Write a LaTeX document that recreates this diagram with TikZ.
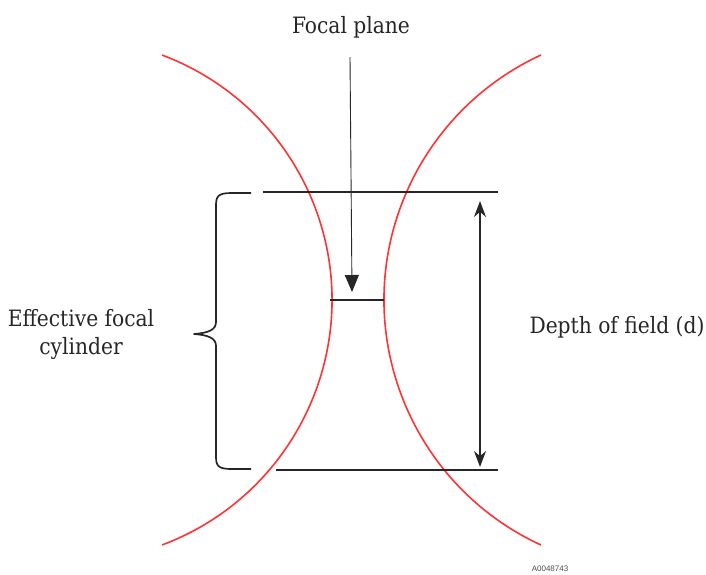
\documentclass[tikz,border=0pt]{standalone}
\usepackage{fontspec}
\setmainfont{DejaVu Serif Condensed}
\setsansfont{Liberation Sans}
\usetikzlibrary{arrows.meta}
\begin{document}
\begin{tikzpicture}[x=1pt,y=-1pt,
  redarc/.style={draw=red!80!white, line width=1.6pt},
  blk/.style={draw=black!85, line width=1.7pt},
  lbl/.style={font=\fontsize{22.5}{27}\selectfont, text=black!85, align=center, inner sep=0pt}]
\useasboundingbox (0,0) rectangle (706,574);
% red arcs
\draw[redarc] (70.5,300) ++(69.5:261.5) arc[start angle=69.5, end angle=-69.5, radius=261.5];
\draw[redarc] (653.7,300) ++(114.7:269.7) arc[start angle=114.7, end angle=245.3, radius=269.7];
% coordinates
\coordinate (tl) at (263,192);
\coordinate (tr) at (498,192);
\coordinate (bl) at (276,470);
\coordinate (br) at (498,470);
\coordinate (fpl) at (330,300);
\coordinate (fpr) at (384,300);
\coordinate (fpa) at (350,57);
\coordinate (fpb) at (352,292);
\coordinate (dt) at (480,201);
\coordinate (db) at (480,467);
% lines
\draw[blk] (tl) -- (tr);
\draw[blk] (bl) -- (br);
\draw[blk] (fpl) -- (fpr);
\draw[draw=black!85, line width=0.9pt, -{Triangle[length=17pt,width=14pt]}] (fpa) -- (fpb);
\draw[blk, {Stealth[length=16pt,width=12pt]}-{Stealth[length=16pt,width=12pt]}] (dt) -- (db);
% brace
\coordinate (b1) at (251,193);
\coordinate (b2) at (251,469);
\draw[draw=black!85, line width=1.7pt, line join=round]
  (b1) -- (232,193) .. controls (218,193) and (216,196) .. (216,206)
  -- (216,322) .. controls (216,330) and (208,333) .. (194,334)
  .. controls (208,335) and (216,338) .. (216,346)
  -- (216,456) .. controls (216,466) and (218,469) .. (232,469) -- (b2);
% labels
\node[lbl] (fp) at (351,27) {Focal plane};
\node[lbl] (efc) at (81,334) {Effective focal\\[1pt]cylinder};
\node[lbl] (dof) at (617,327) {Depth of field (d)};
\node[font=\sffamily\fontsize{8}{9}\selectfont, text=black!70, inner sep=0pt] (id) at (550,569) {A0048743};
\end{tikzpicture}
\end{document}
